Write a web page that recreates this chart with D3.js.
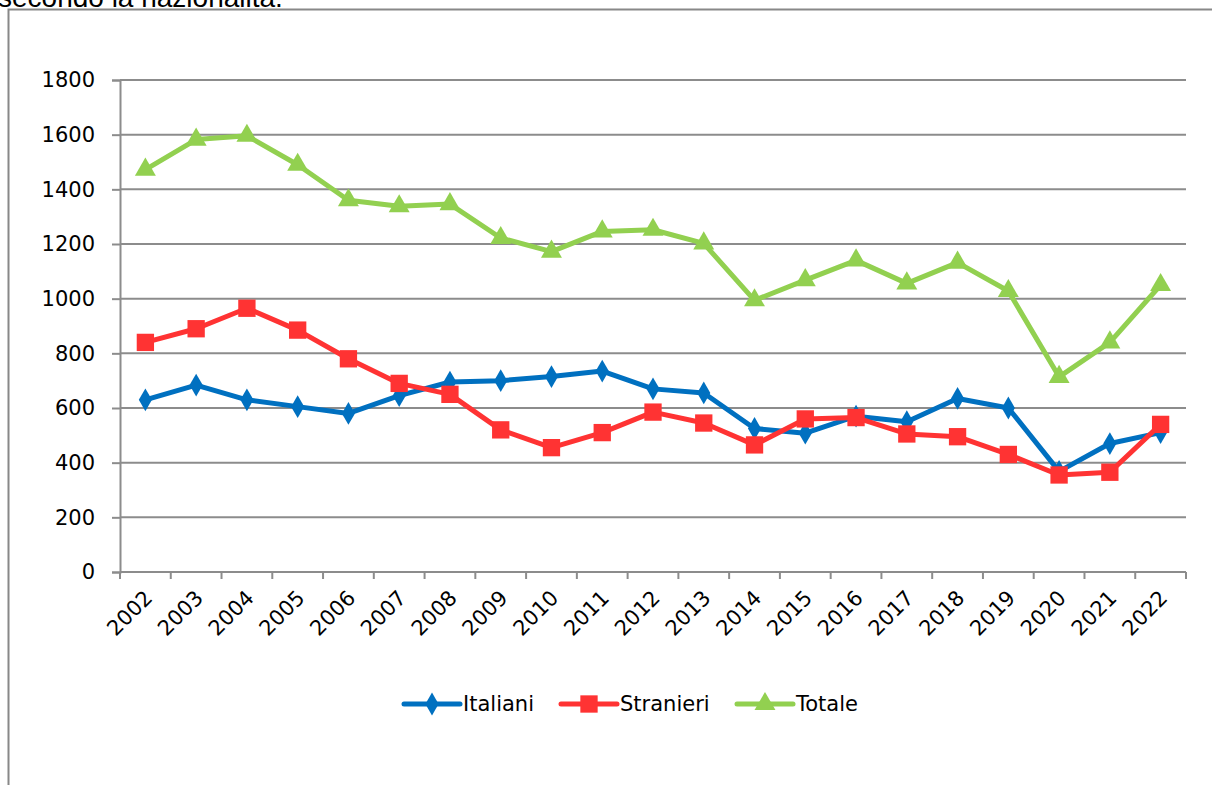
<!DOCTYPE html>
<html lang="it">
<head>
<meta charset="UTF-8">
<title>Italiani, Stranieri, Totale</title>
<script src="https://d3js.org/d3.v7.min.js"></script>
<style>
  body { margin: 0; background: #fff; }
  svg { display: block; }
  text { font-family: "DejaVu Sans", sans-serif; fill: #000; }
</style>
</head>
<body>
<svg width="1212" height="785"></svg>
<script>
const years = ["2002","2003","2004","2005","2006","2007","2008","2009","2010","2011","2012",
               "2013","2014","2015","2016","2017","2018","2019","2020","2021","2022"];
const italiani  = [630, 684, 630, 605, 580, 645, 695, 700, 715, 735, 670, 655, 525, 508, 570, 550, 635, 600, 368, 470, 510];
const stranieri = [840, 890, 965, 885, 780, 690, 650, 520, 455, 510, 585, 545, 465, 560, 565, 505, 495, 430, 355, 365, 540];
const totale    = [1472, 1582, 1596, 1490, 1360, 1338, 1346, 1222, 1172, 1246, 1252, 1202, 994, 1068, 1140, 1056, 1132, 1028, 714, 840, 1050];
const yTicks = [0, 200, 400, 600, 800, 1000, 1200, 1400, 1600, 1800];

const svg = d3.select("svg");

// cornice e titolo tagliato in alto
svg.append("text").attr("x", -2).attr("y", 7)
   .style("font-family", "Liberation Sans, sans-serif").style("font-size", "28px")
   .text("secondo la nazionalità.");
svg.append("path").attr("d", "M8.5,785V9.5H1212")
   .attr("fill", "none").attr("stroke", "#888").attr("stroke-width", 2);

const mLeft = 120, mRight = 1186, mTop = 80, mBottom = 572;

const x = d3.scaleBand().domain(years).range([mLeft, mRight]);
const y = d3.scaleLinear().domain([0, 1800]).range([mBottom, mTop]);

// griglia
svg.append("g").selectAll("line").data(yTicks.filter(d => d > 0)).join("line")
   .attr("x1", mLeft).attr("x2", mRight)
   .attr("y1", d => y(d)).attr("y2", d => y(d))
   .attr("stroke", "#8c8c8c").attr("stroke-width", 2);

// asse y
const gy = svg.append("g").attr("transform", `translate(${mLeft},0)`)
   .call(d3.axisLeft(y).tickValues(yTicks).tickFormat(d3.format("d")).tickSize(8).tickPadding(17));
gy.select(".domain").attr("stroke", "#8c8c8c").attr("stroke-width", 2);
gy.selectAll(".tick line").attr("stroke", "#8c8c8c").attr("stroke-width", 2);
gy.selectAll("text").style("font-size", "21px").style("font-family", "DejaVu Sans, sans-serif").attr("fill", "#000");

// asse x
const gx = svg.append("g").attr("transform", `translate(0,${mBottom})`);
gx.append("line").attr("x1", mLeft).attr("x2", mRight)
   .attr("stroke", "#8c8c8c").attr("stroke-width", 2);
gx.selectAll(".tk").data(d3.range(years.length + 1)).join("line").attr("class", "tk")
   .attr("x1", i => mLeft + i * x.bandwidth()).attr("x2", i => mLeft + i * x.bandwidth())
   .attr("y1", 0).attr("y2", 7)
   .attr("stroke", "#8c8c8c").attr("stroke-width", 2);
gx.selectAll(".lbl").data(years).join("text").attr("class", "lbl")
   .attr("transform", d => `translate(${x(d) + x.bandwidth() / 2 + 3},${22}) rotate(-45)`)
   .attr("text-anchor", "end")
   .attr("dy", "0.35em")
   .style("font-size", "21px")
   .text(d => d);

const cx = (d, i) => x(years[i]) + x.bandwidth() / 2;

const series = [
  { name: "Italiani",  values: italiani,  color: "#0070C0", shape: d3.symbolDiamond, size: 150 },
  { name: "Stranieri", values: stranieri, color: "#FF3333", shape: d3.symbolSquare,  size: 300 },
  { name: "Totale",    values: totale,    color: "#92D050", shape: d3.symbolTriangle, size: 190 }
];

const line = d3.line().x(cx).y(d => y(d));

series.forEach(s => {
  const g = svg.append("g");
  g.append("path").datum(s.values)
   .attr("d", line).attr("fill", "none")
   .attr("stroke", s.color).attr("stroke-width", 5).attr("stroke-linejoin", "round");
  g.selectAll("path.m").data(s.values).join("path").attr("class", "m")
   .attr("transform", (d, i) => `translate(${cx(d, i)},${y(d)})`)
   .attr("d", d3.symbol().type(s.shape).size(s.size))
   .attr("fill", s.color);
});

// legenda
const legX = [404, 561, 737];
const leg = svg.append("g").attr("transform", "translate(0,704)");
series.forEach((s, i) => {
  const g = leg.append("g").attr("transform", `translate(${legX[i]},0)`);
  g.append("line").attr("x1", 0).attr("x2", 56)
   .attr("stroke", s.color).attr("stroke-width", 5).attr("stroke-linecap", "round");
  g.append("path").attr("transform", "translate(28,0)")
   .attr("d", d3.symbol().type(s.shape).size(s.size)).attr("fill", s.color);
  g.append("text").attr("x", 59).attr("dy", "0.35em")
   .style("font-size", "21px").text(s.name);
});
</script>
</body>
</html>
